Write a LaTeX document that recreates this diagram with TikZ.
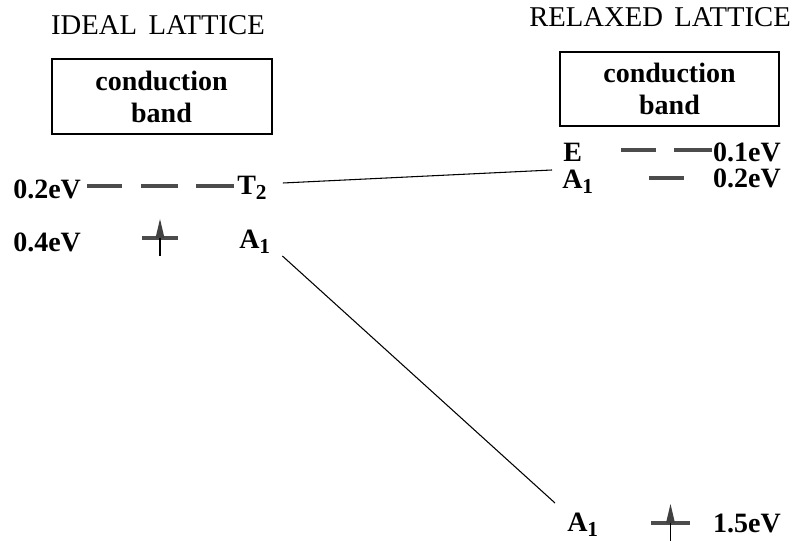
\documentclass[tikz,border=0pt]{standalone}
\usepackage{fontspec}
\setmainfont{Liberation Serif}
\usetikzlibrary{positioning}

\newcommand{\lsub}[1]{\raisebox{-0.35ex}{\fontsize{16}{16}\selectfont #1}}

\begin{document}
\begin{tikzpicture}[
        x=0.75pt, y=-0.75pt,
        title/.style={font=\fontsize{21.5}{24}\selectfont, inner sep=0pt},
        band/.style={draw, line width=1.5pt, minimum width=165pt, minimum height=56pt, align=center, font=\fontsize{21}{24}\selectfont\bfseries, inner sep=0pt},
        lbl/.style={font=\fontsize{21}{24}\selectfont\bfseries, inner sep=0pt},
        level/.style={line width=2.8pt, draw=black!70},
        link/.style={line width=0.8pt},
        pics/electron/.style={code={
            \fill[black!75] (-4.5,0) -- (0,-19) -- (4.5,0) -- cycle;
            \draw[line width=1pt] (0,0) -- (0,18);
        }}
    ]
    \useasboundingbox (0,0) rectangle (797,541);

    % Ideal lattice
    \node[title] (ideal) at (158,25) {IDEAL\hspace{0.4em}LATTICE};
    \node[band] (cbl) at (161.5,96.5) {conduction\\band};

    \node[lbl, anchor=west] (e02l) at (13,189) {0.2eV};
    \node[lbl, anchor=west] (t2) at (237,188) {T\lsub{2}};
    \node[lbl, anchor=west] (e04l) at (13,242) {0.4eV};
    \node[lbl, anchor=west] (a1l) at (239,242) {A\lsub{1}};

    \draw[level] (87,186) -- (122,186);
    \draw[level] (141,186) -- (178,186);
    \draw[level] (196,186) -- (234,186);
    \draw[level] (142,238) -- (178,238);
    \pic at (160,238) {electron};

    % Relaxed lattice
    \node[title] (relaxed) at (660,17) {RELAXED\hspace{0.4em}LATTICE};
    \node[band, minimum width=164pt, minimum height=55.5pt] (cbr) at (669.5,89) {conduction\\band};

    \node[lbl, anchor=west] (e) at (563,152) {E};
    \node[lbl, anchor=east] (e01r) at (781,152) {0.1eV};
    \node[lbl, anchor=west] (a1r) at (562,182) {A\lsub{1}};
    \node[lbl, anchor=east] (e02r) at (781,178) {0.2eV};
    \node[lbl, anchor=west] (a1b) at (567,525) {A\lsub{1}};
    \node[lbl, anchor=east] (e15) at (781,523) {1.5eV};

    \draw[level] (621,150) -- (656,150);
    \draw[level] (674,150) -- (712,150);
    \draw[level] (649,178) -- (684,178);
    \draw[level] (651,523) -- (690,523);
    \pic at (670.5,523) {electron};

    % Correlation lines
    \coordinate (erel) at (552,170);
    \draw[link] ([shift={(16,-5)}]t2.east) -- (erel);
    \draw[link] ([shift={(12,14)}]a1l.east) -- ([shift={(-12,-22)}]a1b.west);

\end{tikzpicture}
\end{document}
